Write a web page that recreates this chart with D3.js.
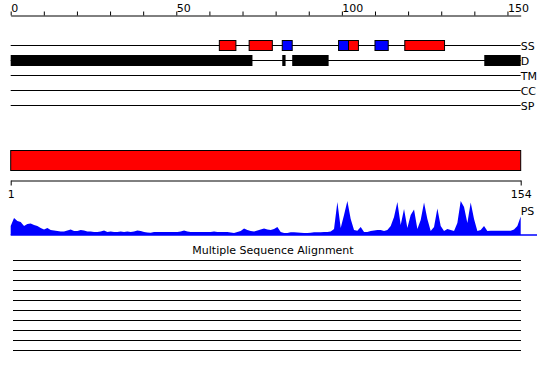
<!DOCTYPE html>
<html>
<head>
<meta charset="utf-8">
<script src="https://cdn.jsdelivr.net/npm/d3@7"></script>
<style>
body { margin: 0; background: #fff; }
svg { display: block; font-family: "DejaVu Sans", sans-serif; }
</style>
</head>
<body>
<svg id="chart" width="550" height="380"></svg>
<script>
var seqLength = 154;
var trackNames = ["SS", "D", "TM", "CC", "SP"];
var topTicks = d3.range(0, 151, 10);
var topLabels = [0, 50, 100, 150];
var helixRanges = [[63, 68], [72, 79], [102, 105], [119, 131]];
var strandRanges = [[82, 85], [99, 102], [110, 114]];
var disorderRanges = [[0, 73], [82, 83], [85, 96], [143, 154]];
var domainRanges = [[1, 154]];
var psTicks = [1, 154];
var psScores = [
    9, 17, 14, 13, 9, 11, 11.5, 10, 9, 7,
    5.5, 7, 5, 4.5, 4, 3.5, 3.5, 4.5, 5.5, 4,
    4, 5, 4.5, 3.5, 3.5, 3, 3, 3.5, 4.5, 3,
    3.5, 3, 3, 3.5, 3, 3.5, 3, 3.5, 4.5, 4,
    3, 2.5, 2.3, 3, 3, 3, 3, 3, 3, 3,
    3, 3.5, 4.5, 3.5, 3, 3, 3, 3, 3, 3,
    3, 3.5, 3, 3, 3, 3, 2.5, 2, 3, 4,
    6.5, 5, 4, 3.5, 4.5, 5.5, 6.5, 5.5, 5, 6,
    8, 3, 2, 2, 2.7, 2.7, 2.5, 2.3, 2, 2,
    2.3, 2.7, 2.7, 2.8, 3, 3, 3.5, 6, 33, 7,
    20, 34, 16, 5, 4.3, 8, 3, 3, 4, 4.5,
    5, 5, 4, 5, 9, 18, 33, 10, 26, 7,
    20, 25.5, 6, 15, 32.5, 16, 4, 8, 26.5, 9,
    4, 6, 5, 4, 12, 34, 28, 12, 32.5, 16,
    4, 5, 9, 4, 4.3, 4.3, 4.3, 4.3, 4.3, 4.3,
    4.3, 5.5, 9, 18.5
];
var alignmentTitle = "Multiple Sequence Alignment";
var alignmentRows = d3.range(10);

var svg = d3.select("#chart");
var left = 10.7, right = 520.7;

// residue scales: the top one counts from 0, the profile one from 1
var x = d3.scaleLinear().domain([0, seqLength]).range([left, right]);
var px = d3.scaleLinear().domain([1, seqLength]).range([left, right]);

var styleAxis = function(g, size) {
    g.select(".domain").attr("stroke", "#000");
    g.selectAll(".tick line").attr("stroke", "#000");
    g.selectAll("text").attr("fill", "#000").style("font-size", size + "px").style("font-family", "DejaVu Sans, sans-serif");
};

// top ruler
var topAxis = d3.axisTop(x).tickValues(topTicks).tickSize(4).tickSizeOuter(0)
    .tickFormat(function(d) { return topLabels.indexOf(d) >= 0 ? d : ""; });
var topG = svg.append("g").attr("transform", "translate(0,15.5)").call(topAxis);
styleAxis(topG, 11);
topG.selectAll("text").attr("text-anchor", "start").attr("dx", 0).attr("y", -4);

// feature tracks
var trackY = d3.scalePoint().domain(trackNames).range([45.5, 105.5]);
var tracks = svg.append("g");
tracks.selectAll("line").data(trackNames).enter().append("line")
    .attr("x1", x(0)).attr("x2", x(seqLength))
    .attr("y1", function(d) { return trackY(d); })
    .attr("y2", function(d) { return trackY(d); })
    .attr("stroke", "#000");
tracks.selectAll("text").data(trackNames).enter().append("text")
    .attr("x", right).attr("y", function(d) { return trackY(d) + 4.5; })
    .style("font-size", "11px").text(function(d) { return d; });

var drawBoxes = function(ranges, track, fill, h, stroke) {
    svg.append("g").selectAll("rect").data(ranges).enter().append("rect")
        .attr("x", function(d) { return x(d[0]); })
        .attr("width", function(d) { return x(d[1]) - x(d[0]); })
        .attr("y", trackY(track) - h / 2)
        .attr("height", h)
        .attr("fill", fill)
        .attr("stroke", stroke ? "#000" : "none");
};
drawBoxes(disorderRanges, "D", "#000", 11, false);
drawBoxes(helixRanges, "SS", "#ff0000", 10, true);
drawBoxes(strandRanges, "SS", "#0000ff", 10, true);

// domain bar
svg.append("g").selectAll("rect").data(domainRanges).enter().append("rect")
    .attr("x", function(d) { return px(d[0]); })
    .attr("width", function(d) { return px(d[1]) - px(d[0]); })
    .attr("y", 150.5).attr("height", 20)
    .attr("fill", "#ff0000").attr("stroke", "#000");

// profile axis
var psAxis = d3.axisBottom(px).tickValues(psTicks).tickSize(5).tickSizeOuter(0);
var psG = svg.append("g").attr("transform", "translate(0,180.5)").call(psAxis);
styleAxis(psG, 11);
psG.selectAll("text").attr("y", 10);
svg.append("text").attr("x", right).attr("y", 215).style("font-size", "11px").text("PS");

// PS profile
var y = d3.scaleLinear().domain([0, 35]).range([235, 200]);
var area = d3.area()
    .x(function(d, i) { return px(i + 1); })
    .y0(y(0))
    .y1(function(d) { return y(d); });
svg.append("path").datum(psScores).attr("d", area).attr("fill", "#0000ff");
svg.append("line").attr("x1", left).attr("x2", 537).attr("y1", 235).attr("y2", 235)
    .attr("stroke", "#0000ff").attr("stroke-width", 1.5);

// alignment block
svg.append("text").attr("x", 273).attr("y", 254).attr("text-anchor", "middle")
    .style("font-size", "11px").text(alignmentTitle);
var rowY = d3.scaleLinear().domain([0, 9]).range([260.5, 350.5]);
svg.append("g").selectAll("line").data(alignmentRows).enter().append("line")
    .attr("x1", 13).attr("x2", 521)
    .attr("y1", function(d) { return rowY(d); })
    .attr("y2", function(d) { return rowY(d); })
    .attr("stroke", "#000");
</script>
</body>
</html>
